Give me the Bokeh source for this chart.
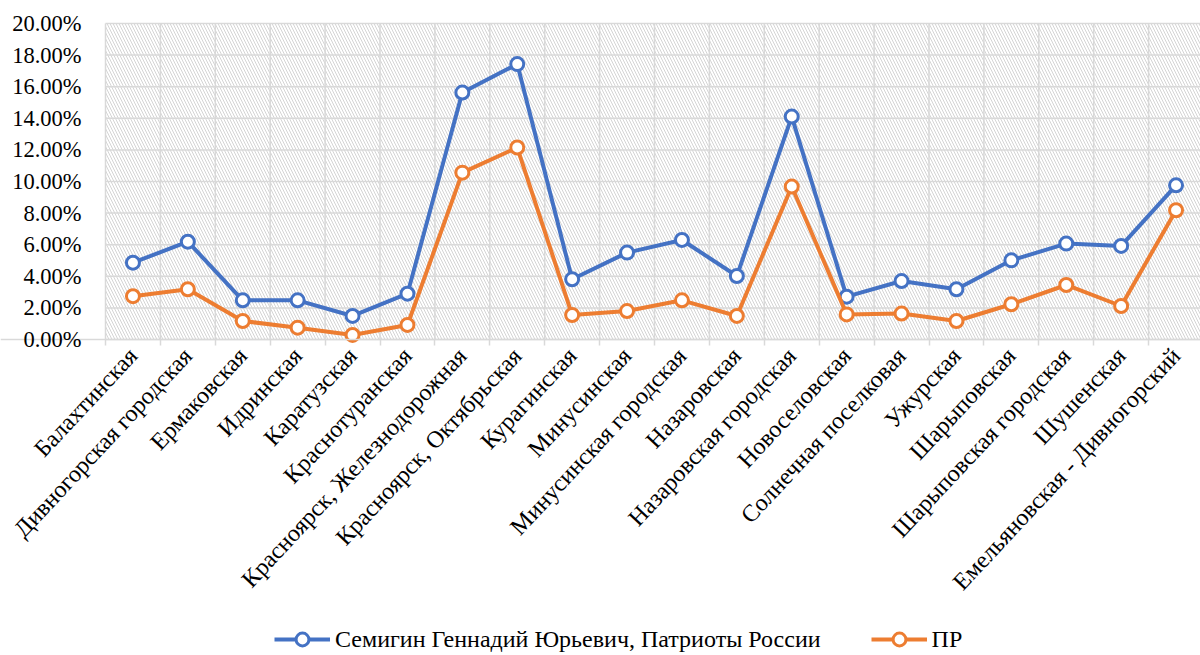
from bokeh.plotting import figure
from bokeh.models import (ColumnDataSource, Range1d, FixedTicker, NumeralTickFormatter,
                          BoxAnnotation, Legend, LegendItem, LinearAxis)
from bokeh.embed import file_html
from bokeh.resources import INLINE

categories = [
    "Балахтинская", "Дивногорская городская", "Ермаковская", "Идринская",
    "Каратузская", "Краснотуранская", "Красноярск, Железнодорожная",
    "Красноярск, Октябрьская", "Курагинская", "Минусинская",
    "Минусинская городская", "Назаровская", "Назаровская городская",
    "Новоселовская", "Солнечная поселковая", "Ужурская", "Шарыповская",
    "Шарыповская городская", "Шушенская", "Емельяновская - Дивногорский",
]
# values in percent
semigin = [4.86, 6.19, 2.48, 2.48, 1.49, 2.90, 15.63, 17.43, 3.81, 5.50,
           6.30, 4.02, 14.11, 2.71, 3.70, 3.18, 5.01, 6.07, 5.92, 9.76]
pr = [2.74, 3.18, 1.17, 0.75, 0.29, 0.92, 10.56, 12.15, 1.55, 1.80,
      2.48, 1.49, 9.68, 1.59, 1.64, 1.17, 2.23, 3.45, 2.12, 8.18]
y_ticks_pct = [0, 2, 4, 6, 8, 10, 12, 14, 16, 18, 20]
series_names = ["Семигин Геннадий Юрьевич, Патриоты России", "ПР"]

BLUE = "#4472C4"
ORANGE = "#ED7D31"
GRID = "#d9d9d9"
FONT = "Liberation Serif"

# page geometry (pixels)
W, H = 1200, 655
PLOT_LEFT, PLOT_TOP, PLOT_BOTTOM = 105, 23, 339
CAT_W = 54.9

n = len(categories)
xs = list(range(n))
y_ticks = [t / 100 for t in y_ticks_pct]
y_max = y_ticks[-1]
px_per_unit = (PLOT_BOTTOM - PLOT_TOP) / y_max

src = ColumnDataSource(dict(
    x=xs,
    semigin=[v / 100 for v in semigin],
    pr=[v / 100 for v in pr],
))
bounds = [i - 0.5 for i in range(n + 1)]
vgrid = ColumnDataSource(dict(x=bounds, y0=[0.0] * len(bounds),
                              y1=[y_max] * len(bounds)))
hgrid = ColumnDataSource(dict(y=y_ticks, x0=[bounds[0]] * len(y_ticks),
                              x1=[bounds[-1]] * len(y_ticks)))

x_start = bounds[0] - PLOT_LEFT / CAT_W
x_end = x_start + W / CAT_W
y_end = y_max + PLOT_TOP / px_per_unit
y_start = -(H - PLOT_BOTTOM) / px_per_unit

# the frame covers the whole canvas; both axes are pinned inside it
p = figure(frame_width=W, frame_height=H,
           x_range=Range1d(x_start, x_end), y_range=Range1d(y_start, y_end),
           output_backend="svg", toolbar_location=None,
           min_border_left=0, min_border_right=0, min_border_top=0,
           min_border_bottom=0, background_fill_color="white",
           border_fill_color="white", outline_line_color=None,
           x_axis_location=None, y_axis_location=None)
p.xgrid.visible = False
p.ygrid.visible = False

# hatched plot-area background
bg = BoxAnnotation(left=bounds[0], bottom=0, top=y_max,
                   fill_color=None, line_color=None,
                   hatch_pattern="left_diagonal_line", hatch_color="#d4d4d4",
                   hatch_scale=6, hatch_weight=1, level="image")
p.add_layout(bg)

p.segment(x0="x0", y0="y", x1="x1", y1="y", source=hgrid,
          line_color=GRID, line_width=1.5)
p.segment(x0="x", y0="y0", x1="x", y1="y1", source=vgrid,
          line_color=GRID, line_width=1.5)

xa = LinearAxis(fixed_location=0)
p.add_layout(xa, "below")
xa.ticker = FixedTicker(ticks=xs, minor_ticks=bounds)
xa.major_label_overrides = {i: c for i, c in enumerate(categories)}
xa.major_label_orientation = 0.82
xa.major_tick_out = 0
xa.major_tick_in = 0
xa.minor_tick_out = 6
xa.minor_tick_in = 0
xa.minor_tick_line_color = GRID
xa.minor_tick_line_width = 1.5
xa.axis_line_color = GRID
xa.axis_line_width = 1.5
xa.major_label_standoff = 6
xa.major_label_text_font = FONT
xa.major_label_text_font_size = "24px"
xa.major_label_text_color = "#000000"

ya = LinearAxis(fixed_location=bounds[0])
p.add_layout(ya, "left")
ya.ticker = FixedTicker(ticks=y_ticks)
ya.formatter = NumeralTickFormatter(format="0.00%")
ya.axis_line_color = None
ya.major_tick_out = 0
ya.major_tick_in = 0
ya.minor_tick_line_color = None
ya.major_label_standoff = 24
ya.major_label_text_font = FONT
ya.major_label_text_font_size = "22.5px"
ya.major_label_text_color = "#000000"

l1 = p.line("x", "semigin", source=src, line_width=4, line_color=BLUE)
s1 = p.scatter("x", "semigin", source=src, marker="circle", size=13,
               fill_color="white", line_color=BLUE, line_width=3)
l2 = p.line("x", "pr", source=src, line_width=4, line_color=ORANGE)
s2 = p.scatter("x", "pr", source=src, marker="circle", size=13,
               fill_color="white", line_color=ORANGE, line_width=3)

legend = Legend(items=[LegendItem(label=series_names[0], renderers=[l1, s1]),
                       LegendItem(label=series_names[1], renderers=[l2, s2])],
                orientation="horizontal", location=(274, 0),
                label_text_font=FONT, label_text_font_size="24px",
                label_text_color="#000000", label_height=30,
                glyph_width=56, glyph_height=32, label_standoff=5, spacing=50,
                border_line_color=None, background_fill_alpha=0,
                padding=0, margin=0)
p.add_layout(legend, "center")

open("out.html", "w").write(file_html(p, INLINE))
